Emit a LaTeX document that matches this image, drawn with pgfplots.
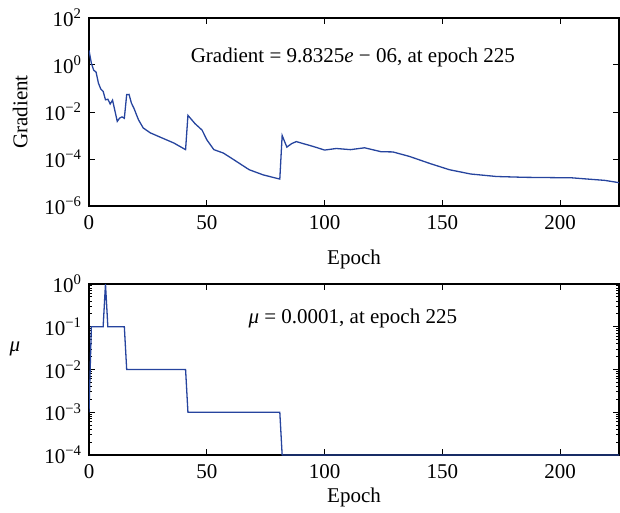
\documentclass[border=0pt]{standalone}
\usepackage{fontspec}
\setmainfont{Liberation Serif}
\usepackage{pgfplots}
\pgfplotsset{compat=1.18}
\definecolor{curve}{RGB}{38,68,158}

\pgfplotsset{
  trainstyle/.style={
    scale only axis,
    width=265pt,
    xmin=0, xmax=225,
    xtick={0,50,100,150,200},
    axis line style={line width=0.8pt},
    major tick length=3pt,
    minor tick length=1.6pt,
    tick style={line width=0.5pt, black},
    tick align=inside,
    font=\fontsize{10.5}{12}\selectfont,
    /pgf/number format/assume math mode=true,
    xlabel={Epoch},
    xticklabel style={yshift=-1pt},
  },
}

\begin{document}
\begin{tikzpicture}
\useasboundingbox (0,0) rectangle (310pt,-256.5pt);

% top panel: gradient
\begin{axis}[
  ymode=log,
  trainstyle,
  at={(44.5pt,-103pt)}, anchor=south west,
  height=94pt,
  ymin=1e-6, ymax=1e2,
  ytick={1e-6,1e-4,1e-2,1,1e2},
  yticklabels={10\textsuperscript{−6},10\textsuperscript{−4},10\textsuperscript{−2},10\textsuperscript{0},10\textsuperscript{2}},
  minor tick length=0pt,
  xlabel style={at={(axis description cs:0.5,0)}, anchor=center, yshift=-26.5pt},
  ylabel={Gradient},
  ylabel style={at={(axis description cs:-0.130,0.5)}, anchor=center},
]
\addplot[curve, line width=0.65pt] coordinates {
(0,4.2) (1,1.2) (2,0.6) (3,0.5) (4,0.17) (5,0.095) (6,0.076) (7,0.033)
(8,0.035) (9,0.022) (10,0.032) (12,0.004) (13,0.0055) (14,0.0062) (15,0.0054)
(16,0.055) (17,0.056) (18,0.024) (19,0.015) (21,0.0047) (23,0.0021) (26,0.0013)
(30,0.00087) (36,0.00048) (41,0.00025) (42,0.0072) (45,0.0032) (48,0.0017)
(50,0.00066) (53,0.00025) (57,0.00018) (61,0.0001) (68,3.5e-5) (74,2.1e-5)
(81,1.4e-5) (82,0.001) (84,0.00032) (86,0.00045) (88,0.00055) (91,0.00045)
(94,0.00037) (97,0.0003) (100,0.00024) (105,0.00028) (111,0.00025) (117,0.0003)
(124,0.000204) (129,0.0002) (136,0.000129) (145,6.3e-5) (153,3.5e-5)
(162,2.3e-5) (173,1.8e-5) (185,1.66e-5) (205,1.58e-5) (219,1.23e-5) (225,9.8325e-6)
};
\node[anchor=center, font=\fontsize{10.5}{12}\selectfont] at (axis cs:112,2.2)
  {Gradient = 9.8325\textit{e} − 06, at epoch 225};
\end{axis}

% bottom panel: mu
\begin{axis}[
  ymode=log,
  trainstyle,
  at={(44.5pt,-227.5pt)}, anchor=south west,
  height=85.5pt,
  ymin=1e-4, ymax=1,
  ytick={1e-4,1e-3,1e-2,1e-1,1},
  yticklabels={10\textsuperscript{−4},10\textsuperscript{−3},10\textsuperscript{−2},10\textsuperscript{−1},10\textsuperscript{0}},
  minor ytick={2e-4,3e-4,4e-4,5e-4,6e-4,7e-4,8e-4,9e-4,
               2e-3,3e-3,4e-3,5e-3,6e-3,7e-3,8e-3,9e-3,
               2e-2,3e-2,4e-2,5e-2,6e-2,7e-2,8e-2,9e-2,
               0.2,0.3,0.4,0.5,0.6,0.7,0.8,0.9},
  xlabel style={at={(axis description cs:0.5,0)}, anchor=center, yshift=-21pt},
  ylabel={\textit{μ}},
  ylabel style={at={(axis description cs:-0.140,0.62)}, anchor=center, rotate=-90},
]
\addplot[curve, line width=0.65pt] coordinates {
(0,1e-3) (1,1e-1) (6,1e-1) (7,1) (8,1e-1) (15,1e-1) (16,1e-2) (41,1e-2)
(42,1e-3) (81,1e-3) (82,1e-4) (225,1e-4)
};
\node[anchor=center, font=\fontsize{10.5}{12}\selectfont] at (axis cs:112,0.16)
  {\textit{μ} = 0.0001, at epoch 225};
\end{axis}
\end{tikzpicture}
\end{document}
